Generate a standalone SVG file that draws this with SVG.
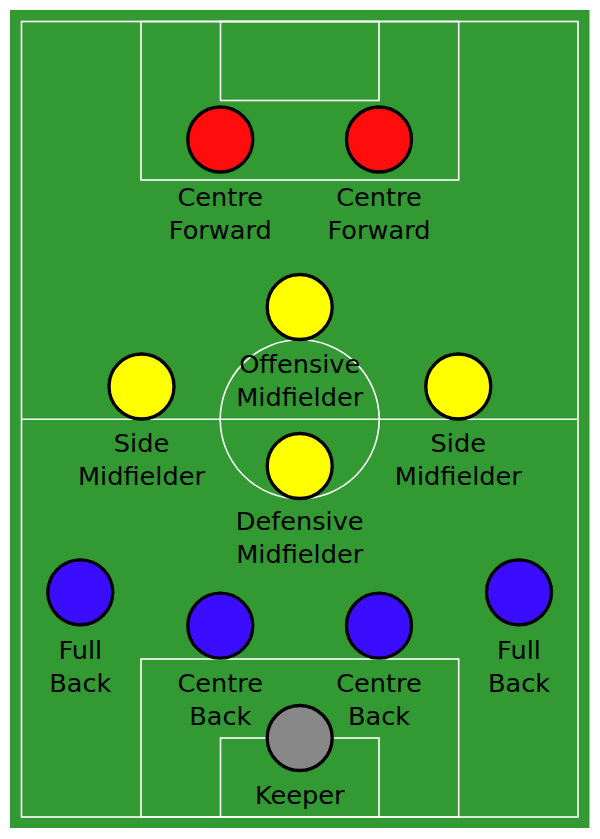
<svg xmlns="http://www.w3.org/2000/svg" width="600" height="839" viewBox="0 0 600 839">
<style>
.line{fill:none;stroke:#ffffff;stroke-width:1.6}
.p{stroke:#000000;stroke-width:3.3}
.fw{fill:#ff0d0d}
.mf{fill:#ffff00}
.df{fill:#3a0dff}
.gk{fill:#888888}
text{font-family:"DejaVu Sans","Liberation Sans",sans-serif;font-size:25.6px;fill:#000000;text-anchor:middle}
</style>
<rect x="10" y="10" width="579.5" height="818" fill="#339933"/>
<g id="pitch-lines">
<rect class="line" x="21.5" y="21.5" width="556.5" height="795.5"/>
<line class="line" x1="21.5" y1="419.3" x2="578" y2="419.3"/>
<circle class="line" cx="299.7" cy="419.3" r="79.5"/>
<rect class="line" x="141" y="21.5" width="317.7" height="158.5"/>
<rect class="line" x="220.5" y="21.5" width="158.5" height="79"/>
<rect class="line" x="141" y="659" width="317.7" height="158"/>
<rect class="line" x="220.5" y="738" width="158.5" height="79"/>
</g>
<g id="connectors"></g>
<g id="cf-left"><circle class="p fw" cx="220.3" cy="139.5" r="32.5"/><text x="220.3" y="205.5">Centre</text><text x="220.3" y="238.5">Forward</text></g>
<g id="cf-right"><circle class="p fw" cx="379" cy="139.5" r="32.5"/><text x="379" y="205.5">Centre</text><text x="379" y="238.5">Forward</text></g>
<g id="om"><circle class="p mf" cx="299.7" cy="307" r="32.5"/><text x="299.7" y="373">Offensive</text><text x="299.7" y="406">Midfielder</text></g>
<g id="sm-left"><circle class="p mf" cx="141.5" cy="386.5" r="32.5"/><text x="141.5" y="451.7">Side</text><text x="141.5" y="484.7">Midfielder</text></g>
<g id="sm-right"><circle class="p mf" cx="458.3" cy="386.5" r="32.5"/><text x="458.3" y="451.7">Side</text><text x="458.3" y="484.7">Midfielder</text></g>
<g id="dm"><circle class="p mf" cx="299.7" cy="466" r="32.5"/><text x="299.7" y="530">Defensive</text><text x="299.7" y="563">Midfielder</text></g>
<g id="fb-left"><circle class="p df" cx="80.3" cy="592.3" r="32.5"/><text x="80.3" y="659">Full</text><text x="80.3" y="692">Back</text></g>
<g id="fb-right"><circle class="p df" cx="519" cy="592.3" r="32.5"/><text x="519" y="659">Full</text><text x="519" y="692">Back</text></g>
<g id="cb-left"><circle class="p df" cx="220.3" cy="625.7" r="32.5"/><text x="220.3" y="692">Centre</text><text x="220.3" y="724.5">Back</text></g>
<g id="cb-right"><circle class="p df" cx="379" cy="625.7" r="32.5"/><text x="379" y="692">Centre</text><text x="379" y="724.5">Back</text></g>
<g id="gk"><circle class="p gk" cx="299.7" cy="738" r="32.5"/><text x="299.7" y="804">Keeper</text></g>
</svg>
